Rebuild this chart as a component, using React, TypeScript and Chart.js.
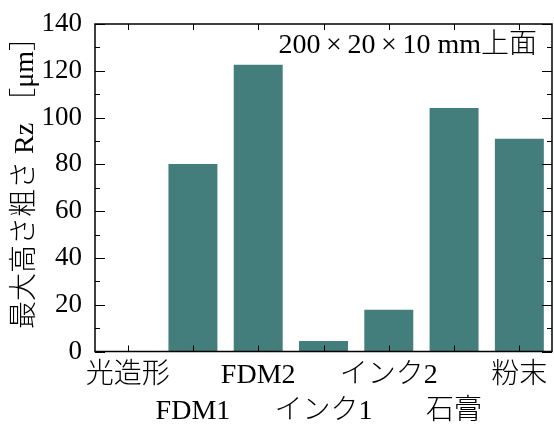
import React, { useEffect, useRef } from 'react';
import { Chart, registerables } from 'chart.js';

Chart.register(...registerables);

const categories = ['光造形', 'FDM1', 'FDM2', 'インク1', 'インク2', '石膏', '粉末'];
const values = [0, 80.2, 122.6, 4.5, 17.8, 104.1, 91.0];
const yMajorTicks = [0, 20, 40, 60, 80, 100, 120, 140];
const yMinorTicks = [10, 30, 50, 70, 90, 110, 130];
const yTitle = '最大高さ粗さ Rz ［μm］';
const note = '200\u2009×\u200920\u2009×\u200910 mm上面';

const FONT = "'Liberation Serif', 'Noto Sans CJK JP', serif";
const BAR = '#437e7c';

const framePlugin = {
  id: 'frameTicks',
  afterDraw(chart: any) {
    const { ctx, chartArea: a, scales } = chart;
    const x = scales.x;
    const y = scales.y;
    const line = (x1: number, y1: number, x2: number, y2: number) => {
      ctx.beginPath();
      ctx.moveTo(x1, y1);
      ctx.lineTo(x2, y2);
      ctx.stroke();
    };
    ctx.save();
    ctx.strokeStyle = '#000';
    ctx.lineWidth = 1;
    yMajorTicks.forEach((v) => {
      const py = Math.round(y.getPixelForValue(v)) + 0.5;
      line(a.left, py, a.left + 10, py);
      line(a.right, py, a.right - 10, py);
    });
    yMinorTicks.forEach((v) => {
      const py = Math.round(y.getPixelForValue(v)) + 0.5;
      line(a.left, py, a.left + 5, py);
      line(a.right, py, a.right - 5, py);
    });
    categories.forEach((_c, i) => {
      const px = Math.round(x.getPixelForValue(i)) + 0.5;
      line(px, a.bottom, px, a.bottom - 6);
      line(px, a.top, px, a.top + 6);
    });
    ctx.lineWidth = 1.5;
    ctx.strokeRect(a.left, a.top, a.right - a.left, a.bottom - a.top);
    ctx.fillStyle = '#000';
    ctx.font = `300 28px ${FONT}`;
    ctx.textAlign = 'right';
    ctx.textBaseline = 'middle';
    ctx.fillText(note, a.right - 15, a.top + 22);
    // y-axis title
    ctx.save();
    ctx.translate(26, 176);
    ctx.rotate(-Math.PI / 2);
    ctx.textAlign = 'center';
    ctx.textBaseline = 'middle';
    ctx.font = `300 28px ${FONT}`;
    ctx.fillText(yTitle, 0, 0);
    ctx.restore();
    ctx.restore();
  },
};

export default function App() {
  const ref = useRef<HTMLCanvasElement>(null);
  useEffect(() => {
    document.body.style.margin = '0';
    const chart = new Chart(ref.current as HTMLCanvasElement, {
      type: 'bar',
      data: {
        labels: categories,
        datasets: [
          {
            data: values,
            backgroundColor: BAR,
            borderWidth: 0,
            barPercentage: 0.75,
            categoryPercentage: 1,
          },
        ],
      },
      options: {
        responsive: false,
        animation: false,
        devicePixelRatio: 1,
        layout: { padding: { top: 24, right: 2, left: 0, bottom: 0 } },
        plugins: { legend: { display: false }, tooltip: { enabled: false } },
        scales: {
          x: {
            type: 'category',
            offset: true,
            grid: { display: false },
            border: { display: false },
            ticks: {
              autoSkip: false,
              maxRotation: 0,
              minRotation: 0,
              padding: -2,
              color: '#000',
              font: { family: FONT, size: 28, lineHeight: 1.28, weight: '300' },
              callback: (_v: any, i: number) => (i % 2 === 1 ? ['', categories[i]] : categories[i]),
            },
            afterFit: (s: any) => {
              s.height = 73.5;
            },
          },
          y: {
            min: 0,
            max: 140,
            grid: { display: false },
            border: { display: false },
            ticks: {
              stepSize: 20,
              padding: 5,
              color: '#000',
              font: { family: FONT, size: 27 },
            },
            title: { display: false },
            afterFit: (s: any) => {
              s.width = 95;
            },
          },
        },
      },
      plugins: [framePlugin],
    });
    return () => chart.destroy();
  }, []);
  return (
    <div style={{ position: 'absolute', left: 0, top: 0, width: 554, height: 425 }}>
      <canvas ref={ref} width={554} height={425} />
    </div>
  );
}
